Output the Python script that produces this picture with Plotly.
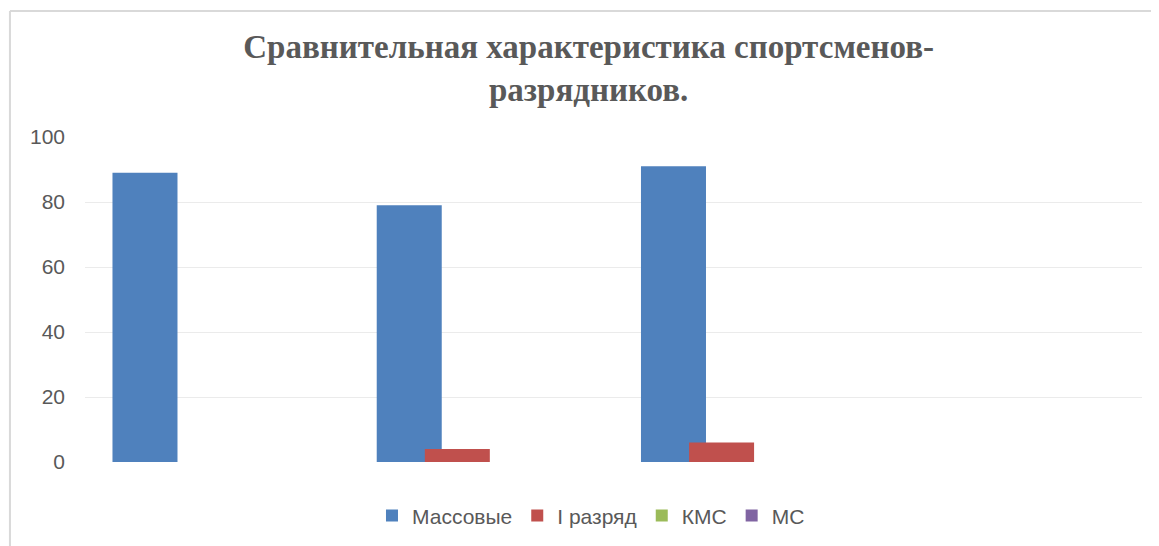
import plotly.graph_objects as go

categories = [0, 1, 2, 3]
series_names = ["Массовые", "I разряд", "КМС", "МС"]
massovye = [89, 79, 91, 0]
razryad1 = [0, 4, 6, 0]
kms = [0, 0, 0, 0]
ms = [0, 0, 0, 0]
y_ticks = [0, 20, 40, 60, 80, 100]

values = [massovye, razryad1, kms, ms]
colors = ["#4F81BD", "#C0504D", "#9BBB59", "#8064A2"]
offsets = [-0.396, -0.214, -0.032, 0.150]
bar_w = 0.246

fig = go.Figure()
for name, vals, col, off in zip(series_names, values, colors, offsets):
    fig.add_trace(go.Bar(
        x=categories, y=vals, name=name,
        marker=dict(color=col, line=dict(width=0)),
        width=bar_w, offset=off,
    ))

fig.update_layout(
    width=1159, height=546,
    barmode="overlay",
    paper_bgcolor="white", plot_bgcolor="white",
    margin=dict(l=77, r=25, t=129, b=92, autoexpand=False),
    title=dict(
        text="Сравнительная характеристика спортсменов-<br>разрядников.",
        x=0.501, xref="container", xanchor="center",
        y=0.908, yref="container", yanchor="top",
        font=dict(family="Liberation Serif", size=33, color="#595959", weight="bold"),
    ),
    xaxis=dict(range=[-0.5, 3.5], showticklabels=False, showgrid=False,
               zeroline=False, showline=False, ticks="", automargin=False),
    yaxis=dict(range=[0, 100], tickvals=y_ticks, showgrid=True, gridcolor="#EBEBEB",
               gridwidth=1, zeroline=False, showline=False, ticks="", automargin=False,
               tickfont=dict(family="Liberation Sans", size=21, color="#595959"),
               ticklabelstandoff=19),
    legend=dict(orientation="h", x=0.4787, xanchor="center", y=-0.166, yanchor="middle",
                font=dict(family="Liberation Sans", size=21, color="#595959"),
                itemwidth=30, traceorder="normal"),
    showlegend=True,
    shapes=[
        dict(type="line", xref="paper", yref="paper", x0=-0.071, x1=1.03, y0=1.3877, y1=1.3877,
             line=dict(color="#D9D9D9", width=2)),
        dict(type="line", xref="paper", yref="paper", x0=-0.071, x1=-0.071, y0=1.3877, y1=-0.3,
             line=dict(color="#D9D9D9", width=2)),
    ],
)

fig.write_html("out.html")
